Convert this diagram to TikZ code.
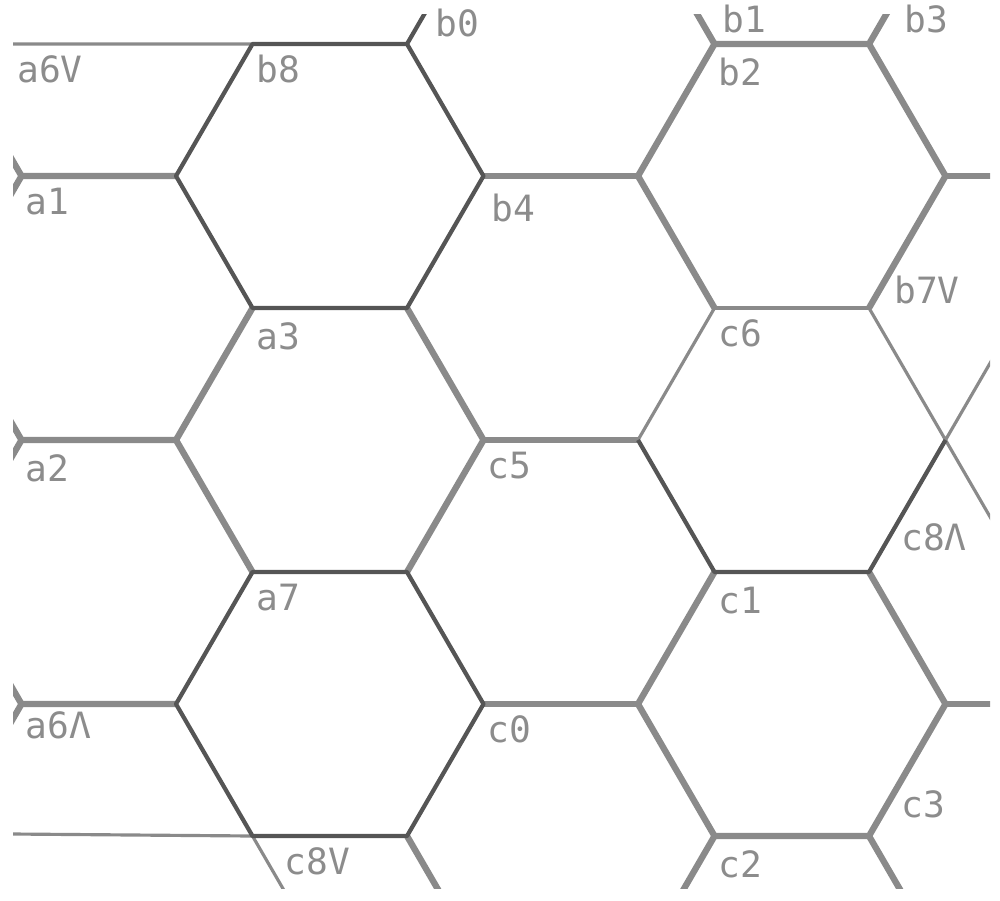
\documentclass[tikz,border=0pt]{standalone}
\usepackage{fontspec}
\newfontfamily\hexmono{DejaVu Sans Mono}
\usepackage{tikz}
\usetikzlibrary{positioning}
\definecolor{EdgeGray}{HTML}{8A8A8A}
\definecolor{DarkEdge}{HTML}{555555}
\definecolor{LabelGray}{HTML}{8C8C8C}

\begin{document}
\begin{tikzpicture}[
  wide/.style={draw=EdgeGray, line width=1.8pt, line join=round},
  midwide/.style={draw=EdgeGray, line width=1.3pt, line join=round},
  faint/.style={draw=EdgeGray, line width=0.9pt},
  dark/.style={draw=DarkEdge, line width=1.2pt, line join=round},
  lbl/.style={font=\hexmono\fontsize{10.3}{12}\selectfont, text=LabelGray,
              inner sep=1pt, text height=7.7pt, text depth=2pt},
]
  \useasboundingbox (0,0) rectangle (10,9);

  \coordinate (a6v) at (0.13,8.56);
  \coordinate (b8)  at (2.525,8.56);
  \coordinate (b0)  at (4.07,8.56);
  \coordinate (b2)  at (7.145,8.56);
  \coordinate (b3)  at (8.69,8.56);
  \coordinate (a1)  at (0.215,7.24);
  \coordinate (p11) at (1.76,7.24);
  \coordinate (b4)  at (4.835,7.24);
  \coordinate (p15) at (6.38,7.24);
  \coordinate (p18) at (9.455,7.24);
  \coordinate (a3)  at (2.525,5.92);
  \coordinate (p23) at (4.07,5.92);
  \coordinate (c6)  at (7.145,5.92);
  \coordinate (b7)  at (8.69,5.92);
  \coordinate (a2)  at (0.215,4.60);
  \coordinate (p31) at (1.76,4.60);
  \coordinate (c5)  at (4.835,4.60);
  \coordinate (p35) at (6.38,4.60);
  \coordinate (p38) at (9.455,4.60);
  \coordinate (a7)  at (2.525,3.28);
  \coordinate (p43) at (4.07,3.28);
  \coordinate (c1)  at (7.145,3.28);
  \coordinate (c8)  at (8.69,3.28);
  \coordinate (a6)  at (0.215,1.96);
  \coordinate (p51) at (1.76,1.96);
  \coordinate (c0)  at (4.835,1.96);
  \coordinate (p55) at (6.38,1.96);
  \coordinate (p58) at (9.455,1.96);
  \coordinate (c8w) at (0.13,0.66);
  \coordinate (p62) at (2.525,0.64);
  \coordinate (p63) at (4.07,0.64);
  \coordinate (c2)  at (7.145,0.64);
  \coordinate (c3)  at (8.69,0.64);

  \coordinate (w0) at (-0.55,8.56);
  \coordinate (w2) at (-0.55,5.92);
  \coordinate (w4) at (-0.55,3.28);
  \coordinate (w6) at (-0.55,0.64);
  \coordinate (b0t) at (4.835,9.88);
  \coordinate (b1t) at (6.38,9.88);
  \coordinate (b3t) at (9.455,9.88);
  \coordinate (p18r) at (10.3,7.24);
  \coordinate (p58r) at (10.3,1.96);
  \coordinate (b7e) at (10.22,3.28);
  \coordinate (c8e) at (10.22,5.92);
  \coordinate (c8b) at (3.29,-0.68);
  \coordinate (p63b) at (4.835,-0.68);
  \coordinate (c2b) at (6.38,-0.68);
  \coordinate (c3b) at (9.455,-0.68);

  \begin{scope}
    \clip (0.13,0.12) rectangle (9.90,8.85);
    \draw[wide] (w0) -- (a1) -- (w2) (a1) -- (p11);
    \draw[wide] (w2) -- (a2) -- (w4) (a2) -- (p31);
    \draw[wide] (w4) -- (a6) -- (w6) (a6) -- (p51);
    \draw[wide] (b4) -- (p15) (p18) -- (p18r);
    \draw[wide] (c5) -- (p35) (c0) -- (p55) (p58) -- (p58r);
    \draw[wide] (a3) -- (p31) -- (a7) (p23) -- (c5) -- (p43);
    \draw[wide] (b1t) -- (b2) -- (b3) -- (b3t) (b3) -- (p18) -- (b7);
    \draw[wide] (c6) -- (p15) -- (b2);
    \draw[wide] (c1) -- (p55) -- (c2) -- (c3) -- (p58) -- (c8);
    \draw[wide] (p63) -- (p63b) (c2) -- (c2b) (c3) -- (c3b);
    \draw[midwide] (c6) -- (b7);
    \draw[faint] (a6v) -- (b8) (c8w) -- (p62) -- (c8b);
    \draw[faint] (b7) -- (b7e) (c8) -- (c8e) (p35) -- (c6);
    \draw[dark] (b8) -- (b0) -- (b4) -- (p23) -- (a3) -- (p11) -- cycle;
    \draw[dark] (b0) -- (b0t);
    \draw[dark] (a7) -- (p43) -- (c0) -- (p63) -- (p62) -- (p51) -- cycle;
    \draw[dark] (p35) -- (c1) -- (c8) -- (p38);
  \end{scope}

  \node[lbl, below right=2pt and 0pt of a6v] (la6v) {a6V};
  \node[lbl, below right=2pt and 0pt of b8] (lb8) {b8};
  \node[lbl, above right=-1pt and 7pt of b0] (lb0) {b0};
  \node[lbl, above right=0pt and 1pt of b2] (lb1) {b1};
  \node[lbl, below right=3pt and 0pt of b2] (lb2) {b2};
  \node[lbl, above right=0pt and 9pt of b3] (lb3) {b3};
  \node[lbl, below right=2pt and 0pt of a1] (la1) {a1};
  \node[lbl, below right=4pt and 1pt of b4] (lb4) {b4};
  \node[lbl, below right=3pt and 0pt of a3] (la3) {a3};
  \node[lbl, below right=2pt and 0pt of c6] (lc6) {c6};
  \node[lbl, above right=-2pt and 6pt of b7] (lb7) {b7V};
  \node[lbl, below right=3pt and 0pt of a2] (la2) {a2};
  \node[lbl, below right=2pt and 0pt of c5] (lc5) {c5};
  \node[lbl, below right=2pt and 0pt of a7] (la7) {a7};
  \node[lbl, below right=3pt and 0pt of c1] (lc1) {c1};
  \node[lbl, above right=3pt and 8pt of c8] (lc8) {c8Λ};
  \node[lbl, below right=1pt and 0pt of a6] (la6) {a6Λ};
  \node[lbl, below right=2pt and 0pt of c0] (lc0) {c0};
  \node[lbl, above right=2pt and 8pt of c3] (lc3) {c3};
  \node[lbl, below right=2pt and 8pt of p62] (lc8v) {c8V};
  \node[lbl, below right=3pt and 0pt of c2] (lc2) {c2};
\end{tikzpicture}
\end{document}
